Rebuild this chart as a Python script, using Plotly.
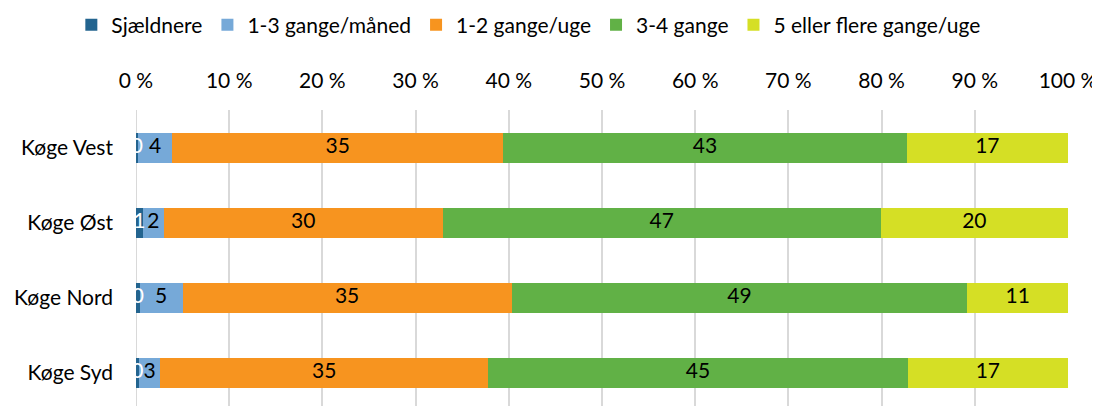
import plotly.graph_objects as go

categories = ["Køge Vest", "Køge Øst", "Køge Nord", "Køge Syd"]
series_names = ["Sjældnere", "1-3 gange/måned", "1-2 gange/uge", "3-4 gange", "5 eller flere gange/uge"]
sjaeldnere = [0.2, 0.7, 0.4, 0.3]
gange_maaned = [3.7, 2.3, 4.6, 2.3]
gange_uge_12 = [35.5, 29.9, 35.3, 35.2]
gange_34 = [43.3, 47.0, 48.9, 45.0]
gange_5 = [17.3, 20.1, 10.8, 17.2]
labels = [
    ["0", "1", "0", "0"],
    ["4", "2", "5", "3"],
    ["35", "30", "35", "35"],
    ["43", "47", "49", "45"],
    ["17", "20", "11", "17"],
]
tick_vals = [0, 10, 20, 30, 40, 50, 60, 70, 80, 90, 100]
tick_text = ["0 %", "10 %", "20 %", "30 %", "40 %", "50 %", "60 %", "70 %", "80 %", "90 %", "100 %"]

colors = ["#23648F", "#76A9D8", "#F7941F", "#61B146", "#D5DF25"]
label_colors = ["white", "black", "black", "black", "black"]
FONT = "Lato, Carlito, Calibri, sans-serif"
FS = 21

values = [sjaeldnere, gange_maaned, gange_uge_12, gange_34, gange_5]

fig = go.Figure()
for name, vals, col in zip(series_names, values, colors):
    fig.add_trace(go.Bar(
        y=categories, x=vals, name=name, orientation="h",
        marker=dict(color=col, line=dict(width=0)),
        hoverinfo="skip",
    ))

# labels centred in each segment
cum = [0.0] * len(categories)
for vals, txt, lc in zip(values, labels, label_colors):
    mids = [c + v / 2 for c, v in zip(cum, vals)]
    cum = [c + v for c, v in zip(cum, vals)]
    fig.add_trace(go.Scatter(
        y=categories, x=mids, mode="text", text=txt,
        textfont=dict(family=FONT, size=FS, color=lc),
        showlegend=False, hoverinfo="skip", cliponaxis=False,
    ))

fig.update_layout(
    width=1092, height=398,
    barmode="stack", bargap=0.6,
    plot_bgcolor="white", paper_bgcolor="white",
    margin=dict(l=128, r=32, t=102, b=0),
    font=dict(family=FONT, size=FS, color="black"),
    legend=dict(orientation="h", x=0.058, xanchor="left", xref="container",
                y=0.957, yref="container", yanchor="middle",
                font=dict(family=FONT, size=FS),
                itemwidth=30, traceorder="normal", tracegroupgap=0),
    showlegend=True,
)
fig.update_xaxes(
    side="top", range=[0, 100], tickvals=tick_vals, ticktext=tick_text,
    showgrid=True, gridcolor="#D9D9D9", gridwidth=2,
    zeroline=False, showline=False, ticks="", ticklabelstandoff=17,
    tickfont=dict(family=FONT, size=FS),
)
fig.update_yaxes(
    categoryorder="array", categoryarray=categories,
    range=[3.44, -0.507], showgrid=False, zeroline=False, ticks="",
    ticklabelstandoff=22, tickfont=dict(family=FONT, size=FS),
)
fig.add_shape(type="line", xref="x", yref="paper", x0=0, x1=0, y0=0, y1=1,
              line=dict(color="#D9D9D9", width=2), layer="below")

fig.write_html("out.html")
